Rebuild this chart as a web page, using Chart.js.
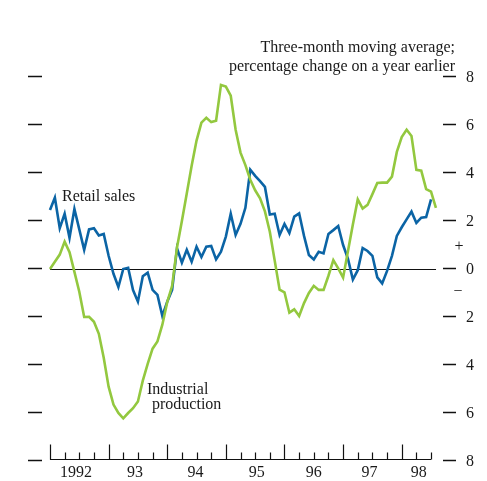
<!DOCTYPE html>
<html>
<head>
<meta charset="utf-8">
<script src="https://cdn.jsdelivr.net/npm/chart.js@4/dist/chart.umd.min.js"></script>
<style>
  html, body { margin: 0; padding: 0; background: #ffffff; }
  #wrap { width: 487px; height: 481px; position: relative; }
</style>
</head>
<body>
<div id="wrap"><canvas id="c" width="487" height="481"></canvas></div>
<script>
// Monthly data, month 0 = January 1992
const retailSales = [
  2.46, 2.97, 1.70, 2.30, 1.30, 2.50, 1.65, 0.80, 1.65, 1.70, 1.40, 1.46,
  0.55, -0.20, -0.75, 0.00, 0.05, -0.88, -1.36, -0.30, -0.15, -0.87, -1.08, -1.96,
  -1.36, -0.87, 0.86, 0.26, 0.80, 0.30, 0.93, 0.50, 0.93, 0.96, 0.40, 0.72,
  1.35, 2.30, 1.42, 1.88, 2.55, 4.14, 3.88, 3.66, 3.42, 2.27, 2.30, 1.42,
  1.88, 1.50, 2.18, 2.32, 1.38, 0.58, 0.40, 0.72, 0.65, 1.46, 1.62, 1.79,
  1.00, 0.42, -0.44, -0.05, 0.87, 0.75, 0.55, -0.35, -0.60, -0.08, 0.55, 1.38,
  1.74, 2.07, 2.39, 1.92, 2.14, 2.16, 2.90
];
const industrialProduction = [
  0.00, 0.30, 0.60, 1.14, 0.70, -0.12, -0.95, -2.00, -1.99, -2.20, -2.70, -3.70,
  -4.90, -5.65, -6.00, -6.22, -6.00, -5.80, -5.52, -4.65, -3.95, -3.32, -3.02, -2.32,
  -1.38, -0.70, 0.90, 2.00, 3.15, 4.30, 5.35, 6.10, 6.30, 6.12, 6.18, 7.67,
  7.60, 7.22, 5.80, 4.85, 4.33, 3.72, 3.28, 2.95, 2.40, 1.55, 0.35, -0.86,
  -0.97, -1.82, -1.68, -1.96, -1.42, -1.00, -0.70, -0.87, -0.87, -0.28, 0.37, 0.03,
  -0.36, 0.75, 1.85, 2.90, 2.52, 2.67, 3.12, 3.58, 3.60, 3.60, 3.85, 4.88,
  5.50, 5.80, 5.54, 4.13, 4.10, 3.33, 3.22, 2.55
];
const yearLabels = ["1992", "93", "94", "95", "96", "97", "98"];
const yearLabelMonths = [5.3, 17.4, 29.8, 42.3, 54.0, 65.4, 75.5];
const yearStartMonths = [0, 12, 24, 36, 48, 60, 72];
const quarterMonths = [3, 6, 9, 15, 18, 21, 27, 30, 33, 39, 42, 45, 51, 54, 57, 63, 66, 69, 75, 78];
const axisEndMonth = 78;
const yTicks = [8, 6, 4, 2, 0, -2, -4, -6, -8];
const titleLines = ["Three-month moving average;", "percentage change on a year earlier"];

const toPoints = arr => arr.map((v, i) => ({ x: i, y: v }));

const SERIF = '"Liberation Serif", "DejaVu Serif", serif';

const decor = {
  id: 'decor',
  beforeDatasetsDraw(chart) {
    const ctx = chart.ctx;
    const xs = chart.scales.x, ys = chart.scales.y;
    const area = chart.chartArea;
    ctx.save();
    ctx.strokeStyle = '#111111';
    // zero line
    ctx.lineWidth = 1;
    const y0 = Math.round(ys.getPixelForValue(0)) + 0.5;
    ctx.beginPath();
    ctx.moveTo(xs.getPixelForValue(0), y0);
    ctx.lineTo(xs.getPixelForValue(axisEndMonth) + 5, y0);
    ctx.stroke();
    // left and right tick marks
    ctx.lineWidth = 1.3;
    yTicks.forEach(t => {
      const y = Math.round(ys.getPixelForValue(t)) - 0.5;
      ctx.beginPath();
      ctx.moveTo(area.left, y); ctx.lineTo(area.left + 14, y);
      ctx.moveTo(area.right - 13, y); ctx.lineTo(area.right, y);
      ctx.stroke();
    });
    // x axis baseline
    const yb = Math.round(ys.getPixelForValue(-8)) - 1.5;
    ctx.lineWidth = 1.2;
    ctx.beginPath();
    ctx.moveTo(xs.getPixelForValue(0), yb);
    ctx.lineTo(xs.getPixelForValue(axisEndMonth), yb);
    ctx.stroke();
    yearStartMonths.forEach(m => {
      const x = Math.round(xs.getPixelForValue(m)) + 0.5;
      ctx.beginPath(); ctx.moveTo(x, yb); ctx.lineTo(x, yb - 15); ctx.stroke();
    });
    quarterMonths.forEach(m => {
      const x = Math.round(xs.getPixelForValue(m)) + 0.5;
      ctx.beginPath(); ctx.moveTo(x, yb); ctx.lineTo(x, yb - 7); ctx.stroke();
    });
    ctx.restore();
  },
  afterDraw(chart) {
    const ctx = chart.ctx;
    const xs = chart.scales.x, ys = chart.scales.y;
    const area = chart.chartArea;
    ctx.save();
    ctx.fillStyle = '#1a1a1a';
    ctx.font = '16px ' + SERIF;
    ctx.textBaseline = 'middle';
    // right tick labels
    ctx.textAlign = 'left';
    yTicks.forEach(t => {
      ctx.fillText(String(Math.abs(t)), area.right + 10, ys.getPixelForValue(t) + 1);
    });
    ctx.textAlign = 'center';
    ctx.fillText('+', area.right + 3, ys.getPixelForValue(1) + 2);
    ctx.fillText('\u2212', area.right + 2, ys.getPixelForValue(-1) - 1);
    // year labels
    yearLabels.forEach((lab, i) => {
      ctx.fillText(lab, xs.getPixelForValue(yearLabelMonths[i]), ys.getPixelForValue(-8) + 12);
    });
    // title
    ctx.textAlign = 'right';
    ctx.fillText(titleLines[0], 455, 48);
    ctx.fillText(titleLines[1], 455, 67);
    // series labels
    ctx.textAlign = 'left';
    ctx.fillText('Retail sales', 62, 197);
    ctx.fillText('Industrial', 147, 390);
    ctx.fillText('production', 152, 405);
    ctx.restore();
  }
};

new Chart(document.getElementById('c'), {
  type: 'line',
  data: {
    datasets: [
      {
        label: 'Industrial production',
        data: toPoints(industrialProduction),
        borderColor: '#93c83f',
        borderWidth: 2.6,
        pointRadius: 0,
        tension: 0,
        fill: false
      },
      {
        label: 'Retail sales',
        data: toPoints(retailSales),
        borderColor: '#0b64a5',
        borderWidth: 2.6,
        pointRadius: 0,
        tension: 0,
        fill: false
      }
    ]
  },
  options: {
    responsive: false,
    animation: false,
    devicePixelRatio: 1,
    layout: { padding: { left: 28, right: 31, top: 77, bottom: 20 } },
    plugins: { legend: { display: false }, tooltip: { enabled: false } },
    scales: {
      x: { type: 'linear', display: false, min: -4.50, max: 83.11 },
      y: { type: 'linear', display: false, min: -8, max: 8 }
    }
  },
  plugins: [decor]
});
</script>
</body>
</html>
